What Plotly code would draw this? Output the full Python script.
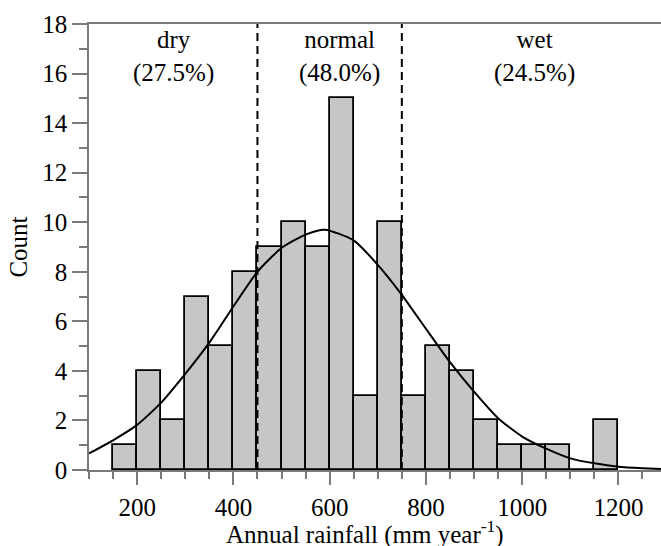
import plotly.graph_objects as go

# ---- data ----
bin_left = [150, 200, 250, 300, 350, 400, 450, 500, 550, 600, 650,
            700, 750, 800, 850, 900, 950, 1000, 1050, 1100, 1150]
bin_width = 50
counts = [1, 4, 2, 7, 5, 8, 9, 10, 9, 15, 3,
          10, 3, 5, 4, 2, 1, 1, 1, 0, 2]

curve_x = [100, 150, 200, 250, 300, 350, 400, 450, 500, 550, 590, 650,
           700, 750, 800, 850, 900, 950, 1000, 1050, 1100, 1150, 1200, 1250, 1290]
curve_y = [0.67, 1.2, 1.82, 2.72, 3.88, 5.14, 6.6, 8.0, 8.96, 9.5, 9.7, 9.27,
           8.28, 7.07, 5.7, 4.35, 3.16, 2.09, 1.35, 0.86, 0.47, 0.27, 0.13, 0.07, 0.04]

class_bounds = [450, 750]
class_names = ["dry", "normal", "wet"]
class_pct = ["(27.5%)", "(48.0%)", "(24.5%)"]
class_label_x = [275, 620, 1025]

FONT = "Liberation Serif, Times New Roman, serif"
AXIS_GREY = "#7a7a7a"

fig = go.Figure()

fig.add_trace(go.Bar(
    x=bin_left, y=counts, width=bin_width, offset=0,
    marker=dict(color="#c6c6c6", line=dict(color="black", width=1.8)),
    showlegend=False, hoverinfo="skip"))

for b in class_bounds:
    fig.add_trace(go.Scatter(
        x=[b, b], y=[0, 18], mode="lines",
        line=dict(color="black", width=2, dash="8px,5px"),
        showlegend=False, hoverinfo="skip"))

fig.add_trace(go.Scatter(
    x=curve_x, y=curve_y, mode="lines",
    line=dict(color="black", width=2, shape="spline", smoothing=0.6),
    showlegend=False, hoverinfo="skip"))

for name, pct, lx in zip(class_names, class_pct, class_label_x):
    fig.add_annotation(x=lx, y=16.7, xref="x", yref="y",
                       text=f"{name}<br>{pct}", showarrow=False,
                       font=dict(family=FONT, size=25, color="black"),
                       align="center", yanchor="middle")

# x-axis title placed as a paper annotation to match the reference spacing
fig.add_annotation(x=0.4825, y=-0.14, xref="paper", yref="paper",
                   text="Annual rainfall (mm year<sup>-1</sup>)", showarrow=False,
                   font=dict(family=FONT, size=25, color="black"),
                   xanchor="center", yanchor="middle")

fig.update_layout(
    width=661, height=546,
    margin=dict(l=89, r=0, t=24, b=76),
    paper_bgcolor="white", plot_bgcolor="white",
    font=dict(family=FONT, size=25, color="black"),
    bargap=0,
)

fig.update_xaxes(
    range=[100, 1288.5], showline=True, linecolor=AXIS_GREY, linewidth=1.5,
    mirror=True, showgrid=False, zeroline=False,
    tick0=0, dtick=200, ticks="outside", ticklen=13, tickwidth=1.5,
    tickcolor=AXIS_GREY,
    minor=dict(dtick=50, ticks="outside", ticklen=7, tickwidth=1.5, tickcolor=AXIS_GREY),
    tickfont=dict(family=FONT, size=25),
    ticklabelstandoff=1,
)

fig.update_yaxes(
    range=[0, 18], showline=True, linecolor=AXIS_GREY, linewidth=1.5,
    showgrid=False, zeroline=False,
    tick0=0, dtick=2, ticks="outside", ticklen=15, tickwidth=1.5,
    tickcolor=AXIS_GREY,
    minor=dict(dtick=1, ticks="outside", ticklen=8, tickwidth=1.5, tickcolor=AXIS_GREY),
    tickfont=dict(family=FONT, size=25),
    title=dict(text="Count", font=dict(family=FONT, size=25), standoff=8),
)

fig.write_html("out.html")
